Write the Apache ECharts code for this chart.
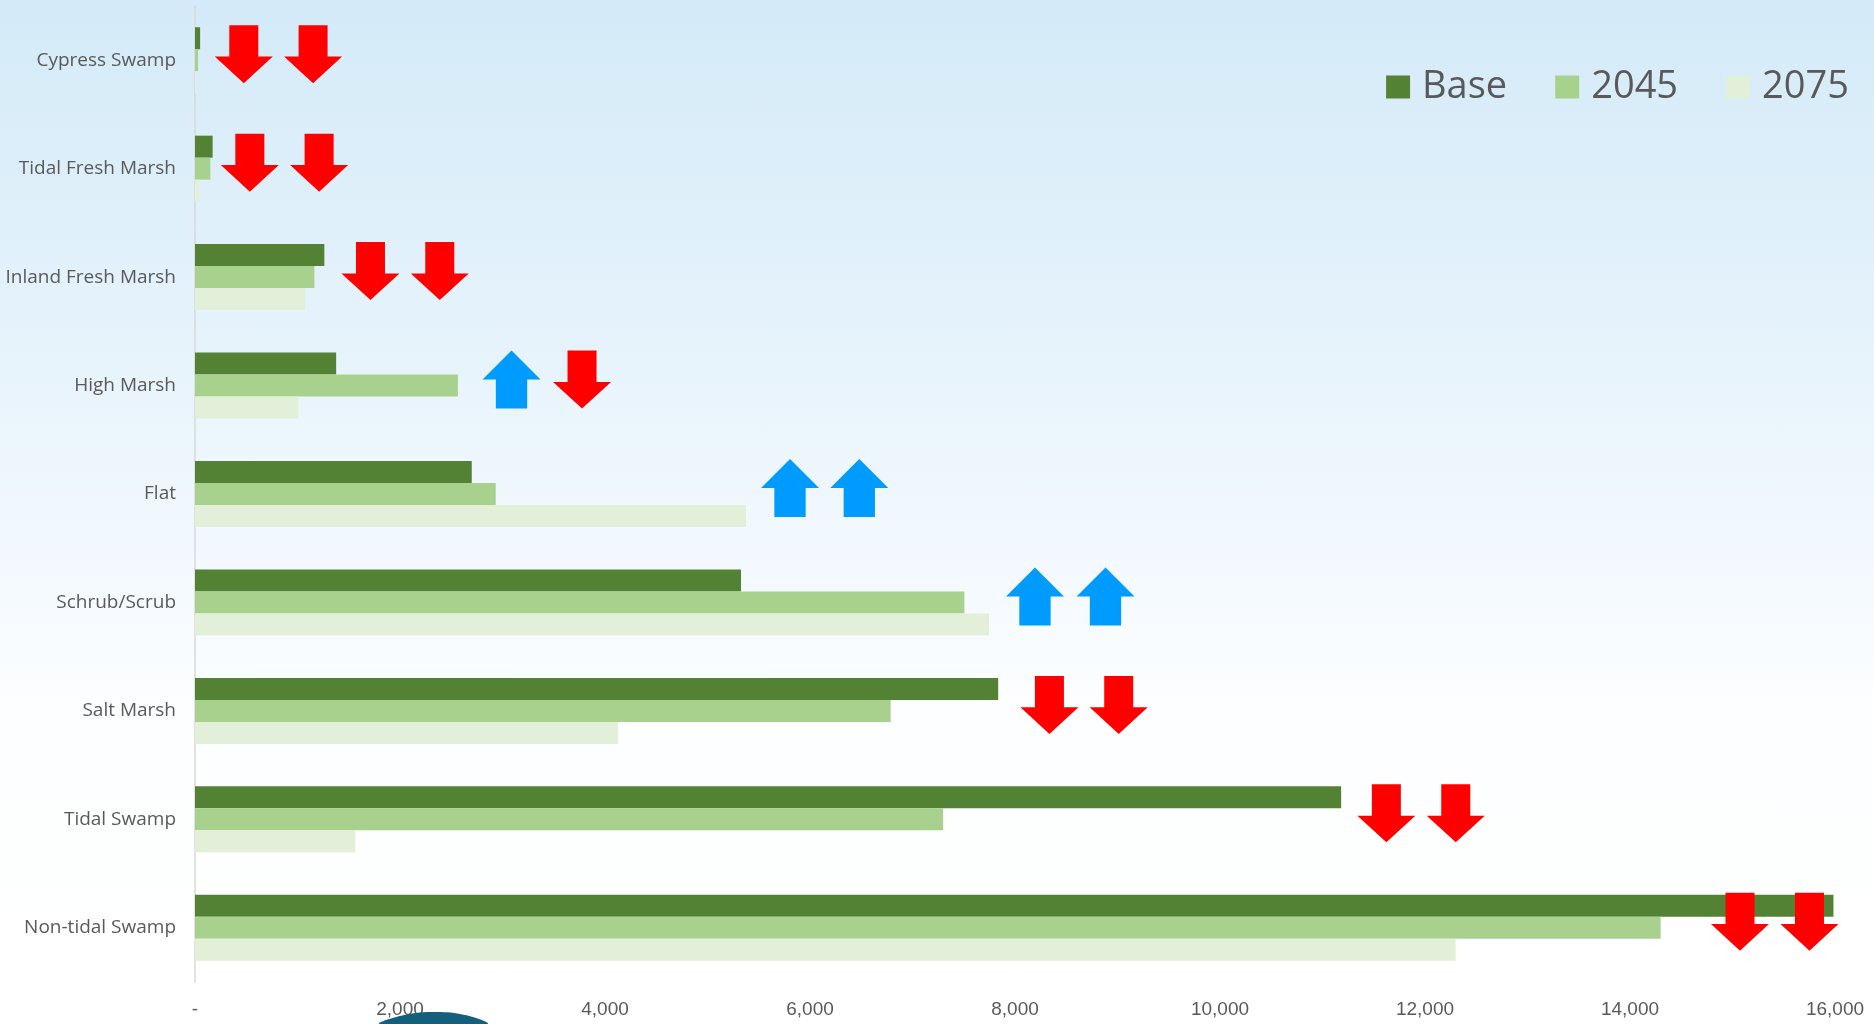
<!DOCTYPE html>
<html>
<head>
<meta charset="utf-8">
<script src="https://cdn.jsdelivr.net/npm/echarts@6/dist/echarts.min.js"></script>
<style>
  html, body { margin: 0; padding: 0; }
  #chart {
    width: 1874px; height: 1024px;
    background: linear-gradient(to bottom, #d4eaf8 0%, #e4f2fb 30%, #f3f9fe 55%, #fdfeff 70%, #ffffff 100%);
  }
</style>
</head>
<body>
<div id="chart"></div>
<script>
// ---- Data ----
const categories = ['Cypress Swamp', 'Tidal Fresh Marsh', 'Inland Fresh Marsh', 'High Marsh', 'Flat',
                    'Schrub/Scrub', 'Salt Marsh', 'Tidal Swamp', 'Non-tidal Swamp'];
const seriesNames = ['Base', '2045', '2075'];
const baseValues = [50, 172, 1262, 1377, 2700, 5327, 7836, 11182, 15985];
const v2045Values = [30, 150, 1165, 2565, 2934, 7506, 6787, 7299, 14299];
const v2075Values = [10, 46, 1074, 1008, 5375, 7746, 4128, 1563, 12300];
const tickValues = [0, 2000, 4000, 6000, 8000, 10000, 12000, 14000, 16000];

// change indicator arrows (annotation), x position in data units and direction
const arrow1X = [476, 535, 1712, 3088, 5805, 8195, 8336, 11623, 15073];
const arrow1Dir = ['down', 'down', 'down', 'up', 'up', 'up', 'down', 'down', 'down'];
const arrow2X = [1152, 1211, 2388, 3776, 6481, 8883, 9012, 12300, 15751];
const arrow2Dir = ['down', 'down', 'down', 'down', 'up', 'up', 'down', 'down', 'down'];

// ---- Styles ----
const colors = ['#548235', '#a9d18e', '#e2f0d9'];
const DOWN = 'path://M25,0 L75,0 L75,54 L100,54 L50,100 L0,54 L25,54 Z';
const UP = 'path://M50,0 L100,50 L77,50 L77,100 L23,100 L23,50 L0,50 Z';
const RED = '#ff0000';
const BLUE = '#009bff';

function arrowData(xs, dirs) {
  return xs.map((x, i) => ({
    value: [x, i],
    symbol: dirs[i] === 'down' ? DOWN : UP,
    itemStyle: { color: dirs[i] === 'down' ? RED : BLUE, opacity: 1 }
  }));
}

const barValues = [baseValues, v2045Values, v2075Values];
const barSeries = seriesNames.map((name, k) => ({
  name: name,
  type: 'bar',
  data: barValues[k],
  barWidth: 22,
  barGap: '0%',
  itemStyle: { color: colors[k] },
  emphasis: { disabled: true }
}));

const arrowSeries = [[arrow1X, arrow1Dir], [arrow2X, arrow2Dir]].map(([xs, dirs]) => ({
  type: 'scatter',
  data: arrowData(xs, dirs),
  symbolSize: [58, 58],
  symbolOffset: [0, -6],
  itemStyle: { opacity: 1 },
  z: 5,
  emphasis: { disabled: true }
}));

const chart = echarts.init(document.getElementById('chart'), null, { renderer: 'canvas' });
chart.setOption({
  backgroundColor: 'transparent',
  animation: false,
  grid: { left: 195, right: 39, top: 6, bottom: 42, containLabel: false },
  legend: {
    data: seriesNames,
    right: 20,
    top: 63,
    icon: 'rect',
    itemWidth: 24,
    itemHeight: 23,
    itemGap: 48,
    textStyle: { fontSize: 38, color: '#595959', fontFamily: 'Open Sans', padding: [0, 0, 0, 7] }
  },
  xAxis: {
    type: 'value',
    min: 0,
    max: 16000,
    interval: 2000,
    axisLine: { show: false },
    axisTick: { show: false },
    splitLine: { show: false },
    axisLabel: {
      margin: 18,
      fontSize: 19,
      color: '#595959',
      fontFamily: 'Liberation Sans',
      formatter: v => v === 0 ? '-' : v.toLocaleString('en-US'),
      showMaxLabel: true
    }
  },
  yAxis: {
    type: 'category',
    data: categories,
    inverse: true,
    axisLine: { show: true, lineStyle: { color: '#d9d9d9', width: 1.5 } },
    axisTick: { show: false },
    axisLabel: { margin: 19, fontSize: 19, color: '#595959', fontFamily: 'Open Sans' }
  },
  series: barSeries.concat(arrowSeries),
  graphic: [{
    type: 'polygon',
    z: 100,
    silent: true,
    shape: {
      points: [[380, 1024], [400, 1016], [432, 1012], [465, 1015], [487, 1024]],
      smooth: 0.4
    },
    style: { fill: '#135f7c' }
  }]
});
</script>
</body>
</html>
